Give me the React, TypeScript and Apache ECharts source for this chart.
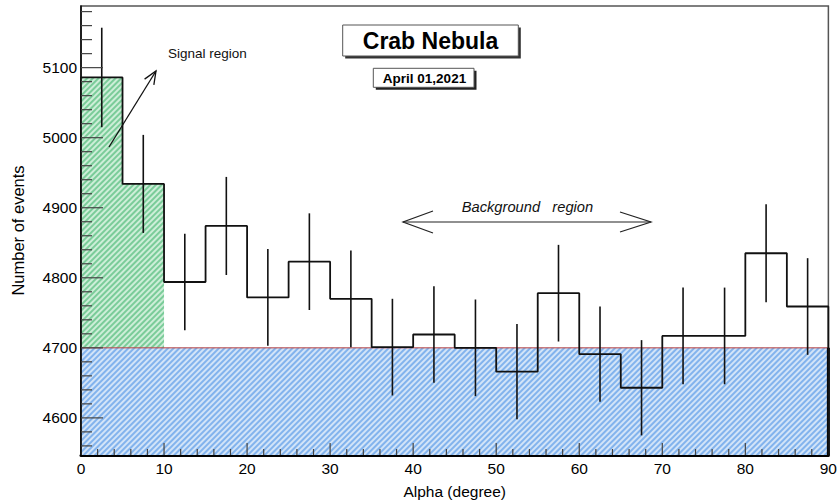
import React, { useEffect, useRef } from "react";
import * as echarts from "echarts";

// ---- data ----
const BIN_LOW = [0, 5, 10, 15, 20, 25, 30, 35, 40, 45, 50, 55, 60, 65, 70, 75, 80, 85];
const BIN_WIDTH = 5;
const COUNTS = [5086, 4934, 4794, 4874, 4772, 4823, 4770, 4701, 4719, 4700, 4666, 4778, 4691, 4643, 4717, 4717, 4835, 4759];
const ERRORS = [71, 70, 69, 70, 69, 69, 69, 69, 69, 69, 68, 69, 68, 68, 69, 69, 70, 69];
const SIGNAL_BINS = 2; // first two bins (0-10 deg) are the signal region
const BKG_LEVEL = 4700;
const Y_MIN = 4547;
const Y_MAX = 5188;
const X_MIN = 0;
const X_MAX = 90;
const Y_MAJOR = [4600, 4700, 4800, 4900, 5000, 5100];
const Y_MINOR = [4560, 4580, 4620, 4640, 4660, 4680, 4720, 4740, 4760, 4780, 4820, 4840, 4860, 4880, 4920, 4940, 4960, 4980, 5020, 5040, 5060, 5080, 5120, 5140, 5160, 5180];
const X_MAJOR = [10, 20, 30, 40, 50, 60, 70, 80];
const X_MINOR = [2, 4, 6, 8, 12, 14, 16, 18, 22, 24, 26, 28, 32, 34, 36, 38, 42, 44, 46, 48, 52, 54, 56, 58, 62, 64, 66, 68, 72, 74, 76, 78, 82, 84, 86, 88];

const FONT = "'Liberation Sans', Arial, Helvetica, sans-serif";

function arrowHead(tip: number[], from: number[], len: number, ang: number) {
  const dx = from[0] - tip[0];
  const dy = from[1] - tip[1];
  const d = Math.sqrt(dx * dx + dy * dy);
  const ux = dx / d, uy = dy / d;
  const rot = (a: number) => [
    tip[0] + len * (ux * Math.cos(a) - uy * Math.sin(a)),
    tip[1] + len * (ux * Math.sin(a) + uy * Math.cos(a)),
  ];
  return [rot(ang), tip, rot(-ang)];
}

export default function App() {
  const ref = useRef<HTMLDivElement>(null);
  useEffect(() => {
    if (!ref.current) return;
    const chart = echarts.init(ref.current, null, { renderer: "svg" });

    const histPts: number[][] = [[BIN_LOW[0], Y_MIN]];
    BIN_LOW.forEach((x, i) => histPts.push([x, COUNTS[i]]));
    const last = BIN_LOW.length - 1;
    histPts.push([BIN_LOW[last] + BIN_WIDTH, COUNTS[last]]);
    histPts.push([BIN_LOW[last] + BIN_WIDTH, Y_MIN]);

    const sigPts: number[][] = [];
    for (let i = 0; i < SIGNAL_BINS; i++) sigPts.push([BIN_LOW[i], COUNTS[i]]);
    sigPts.push([BIN_LOW[SIGNAL_BINS - 1] + BIN_WIDTH, COUNTS[SIGNAL_BINS - 1]]);

    const errData = BIN_LOW.map((x, i) => [x + BIN_WIDTH / 2, COUNTS[i], ERRORS[i]]);

    const yTickData = [
      ...Y_MAJOR.map((v) => [X_MIN, v, 22]),
      ...Y_MINOR.map((v) => [X_MIN, v, 11]),
    ];
    const xTickData = [
      ...X_MAJOR.map((v) => [v, Y_MIN, 12]),
      ...X_MINOR.map((v) => [v, Y_MIN, 6]),
    ];

    const sigShaft = [[109, 147], [156, 71]];
    const bgL = [403, 222];
    const bgR = [651, 222];
    const tickStroke = { stroke: "#444", lineWidth: 1.2 };

    chart.setOption({
      animation: false,
      backgroundColor: "#ffffff",
      grid: {
        left: 81, right: 9, top: 6, bottom: 45,
        show: true, borderColor: "#555", borderWidth: 1.5, backgroundColor: "transparent",
      },
      xAxis: {
        type: "value", min: X_MIN, max: X_MAX, interval: 10,
        axisLine: { show: true, lineStyle: { color: "#000", width: 3 } },
        axisTick: { show: false },
        splitLine: { show: false },
        axisLabel: { color: "#000", fontSize: 15.5, fontFamily: FONT, margin: 5 },
        name: "Alpha (degree)", nameLocation: "middle", nameGap: 28,
        nameTextStyle: { color: "#000", fontSize: 15.5, fontFamily: FONT },
      },
      yAxis: {
        type: "value", min: Y_MIN, max: Y_MAX, position: "left",
        axisLine: { show: true, lineStyle: { color: "#000", width: 1.5 } },
        axisTick: { show: false },
        splitLine: { show: false },
        axisLabel: {
          color: "#000", fontSize: 15.5, fontFamily: FONT, margin: 4, customValues: Y_MAJOR,
          formatter: (v: number) => String(v),
        },
        name: "Number of events", nameLocation: "middle", nameGap: 55, nameRotate: 90,
        nameTextStyle: { color: "#000", fontSize: 16.5, fontFamily: FONT },
      },
      series: [
        {
          name: "signal", type: "line", step: "end", data: sigPts, symbol: "none", z: 1,
          lineStyle: { width: 0, opacity: 0 },
          itemStyle: {
            color: "#cdeed8",
            decal: { symbol: "rect", symbolSize: 1, dashArrayX: [1, 0], dashArrayY: [1.5, 1.5], rotation: -Math.PI / 4, color: "rgba(40,170,90,0.5)" },
          },
          areaStyle: { origin: "start", color: "#cdeed8", opacity: 1 },
        },
        {
          name: "background", type: "line", data: [[X_MIN, BKG_LEVEL], [X_MAX, BKG_LEVEL]], symbol: "none", z: 2,
          lineStyle: { width: 1, color: "#b84040" },
          itemStyle: {
            color: "#d2e4f8",
            decal: { symbol: "rect", symbolSize: 1, dashArrayX: [1, 0], dashArrayY: [1.5, 1.5], rotation: -Math.PI / 4, color: "rgba(50,130,225,0.5)" },
          },
          areaStyle: { origin: "start", color: "#d2e4f8", opacity: 1 },
        },
        {
          name: "bkgEdge", type: "line", data: [[X_MAX, Y_MIN], [X_MAX, BKG_LEVEL]], symbol: "none", z: 3,
          lineStyle: { width: 3, color: "#000" },
        },
        {
          name: "histogram", type: "line", step: "end", data: histPts, symbol: "none", z: 4,
          lineStyle: { width: 1.8, color: "#111" },
        },
        {
          name: "errors", type: "custom", z: 4, data: errData,
          renderItem: (params: any, api: any) => {
            const x = api.value(0), v = api.value(1), e = api.value(2);
            const p1 = api.coord([x, v - e]);
            const p2 = api.coord([x, v + e]);
            return { type: "line", shape: { x1: p1[0], y1: p1[1], x2: p2[0], y2: p2[1] }, style: { stroke: "#111", lineWidth: 1.6 } };
          },
        },
        {
          name: "yTicks", type: "custom", z: 6, silent: true, data: yTickData,
          renderItem: (params: any, api: any) => {
            const p = api.coord([api.value(0), api.value(1)]);
            const len = api.value(2);
            return { type: "line", shape: { x1: p[0], y1: p[1], x2: p[0] + len, y2: p[1] }, style: tickStroke };
          },
        },
        {
          name: "xTicks", type: "custom", z: 6, silent: true, data: xTickData,
          renderItem: (params: any, api: any) => {
            const p = api.coord([api.value(0), api.value(1)]);
            const len = api.value(2);
            return { type: "line", shape: { x1: p[0], y1: p[1], x2: p[0], y2: p[1] - len }, style: tickStroke };
          },
        },
      ],
      graphic: [
        { type: "rect", shape: { x: 345.2, y: 27.5, width: 175.6, height: 31 }, style: { fill: "#333" }, z: 10 },
        { type: "rect", shape: { x: 342.7, y: 25, width: 175.6, height: 31 }, style: { fill: "#fff", stroke: "#555", lineWidth: 1 }, z: 11 },
        { type: "text", x: 430.5, y: 41, style: { text: "Crab Nebula", fontSize: 23, fontWeight: "bold", fontFamily: FONT, fill: "#000", align: "center", verticalAlign: "middle" }, z: 12 },
        { type: "rect", shape: { x: 375.8, y: 70.8, width: 100.7, height: 19 }, style: { fill: "#222" }, z: 10 },
        { type: "rect", shape: { x: 373.3, y: 68.3, width: 100.7, height: 19 }, style: { fill: "#fff", stroke: "#555", lineWidth: 1 }, z: 11 },
        { type: "text", x: 424.5, y: 78, style: { text: "April 01,2021", fontSize: 13.5, fontWeight: "bold", fontFamily: FONT, fill: "#000", align: "center", verticalAlign: "middle" }, z: 12 },
        { type: "text", x: 168, y: 53, style: { text: "Signal region", fontSize: 13.5, fontFamily: FONT, fill: "#111", align: "left", verticalAlign: "middle" }, z: 12 },
        { type: "line", shape: { x1: sigShaft[0][0], y1: sigShaft[0][1], x2: sigShaft[1][0], y2: sigShaft[1][1] }, style: { stroke: "#111", lineWidth: 1.3 }, z: 12 },
        { type: "polyline", shape: { points: arrowHead(sigShaft[1], sigShaft[0], 14, 0.4) }, style: { stroke: "#111", lineWidth: 1.3, fill: "none" }, z: 12 },
        { type: "text", x: 461.7, y: 207, style: { text: "Background   region", fontSize: 14.7, fontStyle: "italic", fontFamily: FONT, fill: "#111", align: "left", verticalAlign: "middle" }, z: 12 },
        { type: "line", shape: { x1: bgL[0], y1: bgL[1], x2: bgR[0], y2: bgR[1] }, style: { stroke: "#222", lineWidth: 1.2 }, z: 12 },
        { type: "polyline", shape: { points: [[433, 211], bgL, [433, 233]] }, style: { stroke: "#222", lineWidth: 1.2, fill: "none" }, z: 12 },
        { type: "polyline", shape: { points: [[620, 212], bgR, [620, 232]] }, style: { stroke: "#222", lineWidth: 1.2, fill: "none" }, z: 12 },
      ],
    });
    return () => chart.dispose();
  }, []);
  return <div ref={ref} style={{ position: "fixed", left: 0, top: 0, width: 840, height: 504 }} />;
}
